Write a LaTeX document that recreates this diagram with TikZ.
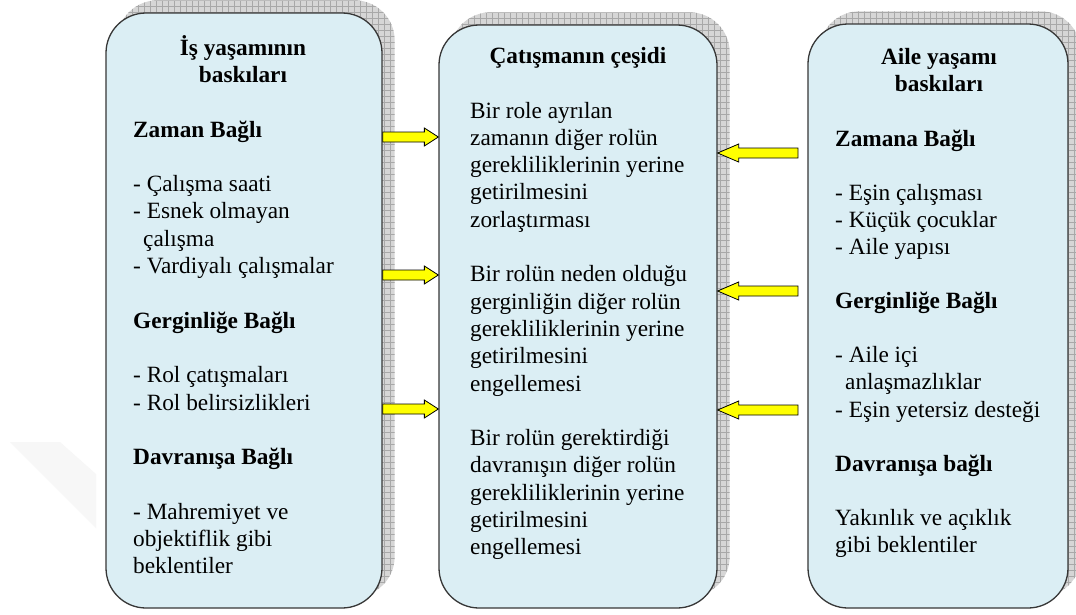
\documentclass[tikz,border=0pt]{standalone}
\usepackage{fontspec}
\setmainfont{Liberation Serif}
\usetikzlibrary{calc,backgrounds}
\definecolor{boxfill}{RGB}{219,238,244}
\definecolor{boxline}{RGB}{55,55,55}
\definecolor{arrowyellow}{RGB}{255,255,0}
\tikzset{
  box/.style={draw=boxline, line width=1.3pt, fill=boxfill, rounded corners=40pt, inner sep=0pt},
  shadowfill/.style={fill=black!16},
  shadowgrid/.style={draw=black!34, line width=0.45pt, step=6pt},
  yarrow/.style={draw=black, line width=0.8pt, fill=arrowyellow, line join=miter},
  txt/.style={anchor=base west, inner sep=0pt, font=\fontsize{23.3}{28}\selectfont},
  hd/.style={txt, font=\fontsize{23.3}{28}\selectfont\bfseries},
  ttl/.style={anchor=base, inner sep=0pt, font=\fontsize{23.3}{28}\selectfont\bfseries},
  wmark/.style={fill=black!3}
}
\newcommand\gridshadow[1]{%
  \begin{scope}
    \clip[rounded corners=40pt] ([shift={(12pt,12pt)}]#1.south west) rectangle ([shift={(12pt,12pt)}]#1.north east);
    \fill[shadowfill] ([shift={(10pt,10pt)}]#1.south west) rectangle ([shift={(14pt,14pt)}]#1.north east);
    \draw[shadowgrid] ([shift={(10pt,10pt)}]#1.south west) grid ([shift={(14pt,14pt)}]#1.north east);
  \end{scope}}
\newcommand\blockarrow[3]{%
  \draw[yarrow] let \p1=(#1), \p2=(#2) in
    (\x1,{\y1+5pt}) -- ({\x2-(#3)},{\y1+5pt}) -- ({\x2-(#3)},{\y1+9pt}) -- (\x2,\y1)
    -- ({\x2-(#3)},{\y1-9pt}) -- ({\x2-(#3)},{\y1-5pt}) -- (\x1,{\y1-5pt}) -- cycle;}
\begin{document}
\begin{tikzpicture}[x=1pt,y=-1pt]
\useasboundingbox (0,0) rectangle (1076,614);

% boxes
\node[box, minimum width=276pt, minimum height=595pt] (L) at (244,310.5) {};
\node[box, minimum width=278pt, minimum height=583pt] (M) at (578,316.5) {};
\node[box, minimum width=260pt, minimum height=584pt] (R) at (938,316) {};
\begin{scope}[on background layer]
  \fill[white] (0,0) rectangle (1076,614);
  % faint watermark
  \fill[wmark] (10,442) -- (60,442) -- (96,474) -- (96,528) -- cycle;
  \gridshadow{L}
  \gridshadow{M}
  \gridshadow{R}
\end{scope}

% left box text
\node[ttl] (lt1) at (243,55) {İş yaşamının};
\node[ttl] (lt2) at (243,82.4) {baskıları};
\node[hd] (l0) at (133,137) {Zaman Bağlı};
\node[txt] (l2) at (133,191.6) {- Çalışma saati};
\node[txt] (l3) at (133,218.9) {- Esnek olmayan};
\node[txt] (l4) at (143,246.2) {çalışma};
\node[txt] (l5) at (133,273.5) {- Vardiyalı çalışmalar};
\node[hd] (l7) at (133,328.1) {Gerginliğe Bağlı};
\node[txt] (l9) at (133,382.7) {- Rol çatışmaları};
\node[txt] (l10) at (133,410) {- Rol belirsizlikleri};
\node[hd] (l12) at (133,464.6) {Davranışa Bağlı};
\node[txt] (l14) at (133,519.2) {- Mahremiyet ve};
\node[txt] (l15) at (133,546.5) {objektiflik gibi};
\node[txt] (l16) at (133,573.8) {beklentiler};

% middle box text
\node[ttl] (mt) at (578,63.4) {Çatışmanın çeşidi};
\node[txt] (m0) at (470,118) {Bir role ayrılan};
\node[txt] (m1) at (470,145.3) {zamanın diğer rolün};
\node[txt] (m2) at (470,172.6) {gerekliliklerinin yerine};
\node[txt] (m3) at (470,199.9) {getirilmesini};
\node[txt] (m4) at (470,227.2) {zorlaştırması};
\node[txt] (m6) at (470,281.8) {Bir rolün neden olduğu};
\node[txt] (m7) at (470,309.1) {gerginliğin diğer rolün};
\node[txt] (m8) at (470,336.4) {gerekliliklerinin yerine};
\node[txt] (m9) at (470,363.7) {getirilmesini};
\node[txt] (m10) at (470,391) {engellemesi};
\node[txt] (m12) at (470,445.6) {Bir rolün gerektirdiği};
\node[txt] (m13) at (470,472.9) {davranışın diğer rolün};
\node[txt] (m14) at (470,500.2) {gerekliliklerinin yerine};
\node[txt] (m15) at (470,527.5) {getirilmesini};
\node[txt] (m16) at (470,554.8) {engellemesi};

% right box text
\node[ttl] (rt1) at (939,64.7) {Aile yaşamı};
\node[ttl] (rt2) at (939,91.8) {baskıları};
\node[hd] (r0) at (835,146) {Zamana Bağlı};
\node[txt] (r2) at (835,200.2) {- Eşin çalışması};
\node[txt] (r3) at (835,227.3) {- Küçük çocuklar};
\node[txt] (r4) at (835,254.4) {- Aile yapısı};
\node[hd] (r6) at (835,308.6) {Gerginliğe Bağlı};
\node[txt] (r8) at (835,362.8) {- Aile içi};
\node[txt] (r9) at (845,389.9) {anlaşmazlıklar};
\node[txt] (r10) at (835,417) {- Eşin yetersiz desteği};
\node[hd] (r12) at (835,471.2) {Davranışa bağlı};
\node[txt] (r14) at (835,525.4) {Yakınlık ve açıklık};
\node[txt] (r15) at (835,552.5) {gibi beklentiler};

% arrow levels
\coordinate (ya1) at (0,137);
\coordinate (ya2) at (0,275);
\coordinate (ya3) at (0,409);
\coordinate (yb1) at (798,153);
\coordinate (yb2) at (798,291);
\coordinate (yb3) at (798,410);

\blockarrow{L.east |- ya1}{M.west |- ya1}{14pt}
\blockarrow{L.east |- ya2}{M.west |- ya2}{14pt}
\blockarrow{L.east |- ya3}{M.west |- ya3}{14pt}
\blockarrow{yb1}{M.east |- yb1}{-21pt}
\blockarrow{yb2}{M.east |- yb2}{-21pt}
\blockarrow{yb3}{M.east |- yb3}{-21pt}
\end{tikzpicture}
\end{document}
